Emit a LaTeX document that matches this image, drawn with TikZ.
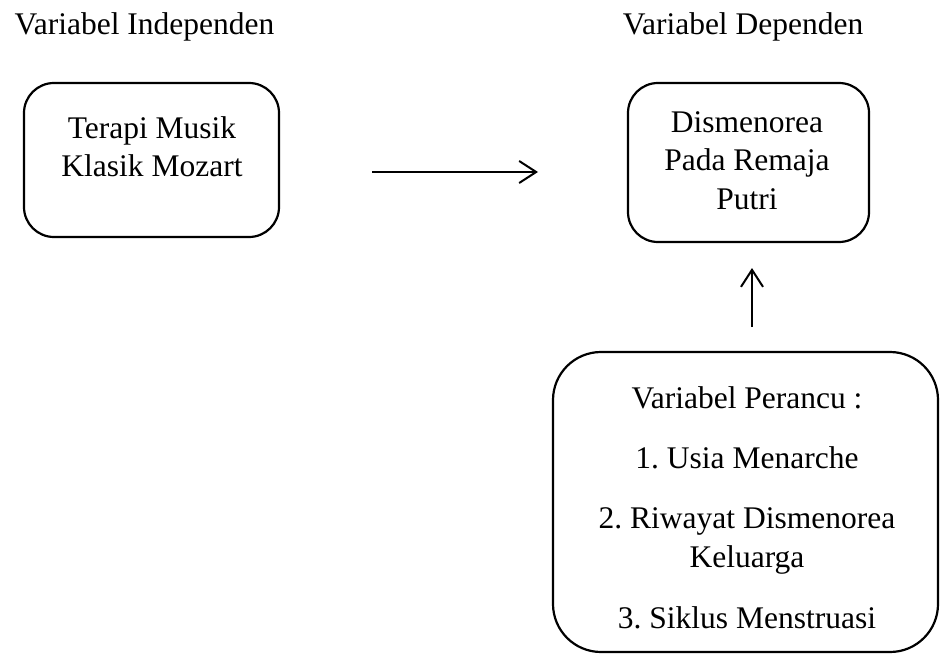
\documentclass[tikz,border=0pt]{standalone}
\usepackage{fontspec}
\setmainfont{Liberation Serif}
\usetikzlibrary{arrows.meta}
\frenchspacing
\begin{document}
\begin{tikzpicture}[x=1pt,y=-1pt,
  box/.style={draw,line width=2.2pt,rounded corners=#1,inner sep=0pt},
  txt/.style={font=\fontsize{31.5}{39}\selectfont,align=center,anchor=base,inner sep=0pt},
  arr/.style={line width=2pt,-{Straight Barb[length=17pt,width=22pt,line width=2pt]}}]
\useasboundingbox (0,0) rectangle (941,655);
% headings
\node[txt] (hind) at (144.5,35) {Variabel Independen};
\node[txt] (hdep) at (743,35) {Variabel Dependen};
% boxes
\node[box=30pt,minimum width=255pt,minimum height=154pt] (ind) at (151.5,160) {};
\node[box=30pt,minimum width=241pt,minimum height=159pt] (dep) at (748.5,162.5) {};
\node[box=48pt,minimum width=385pt,minimum height=300pt] (con) at (745.5,502) {};
% texts (anchor base = baseline of the last line)
\node[txt,font=\fontsize{31.5}{38}\selectfont] (tind) at (152,176) {Terapi Musik\\Klasik Mozart};
\node[txt,font=\fontsize{31.5}{38.5}\selectfont] (tdep) at (747,209) {Dismenorea\\Pada Remaja\\Putri};
\node[txt] (tcon) at (747,628) {Variabel Perancu :\\[21pt]1. Usia Menarche\\[21pt]2. Riwayat Dismenorea\\Keluarga\\[22pt]3. Siklus Menstruasi};
% arrows
\coordinate (h1) at (372,172);
\coordinate (h2) at (538,172);
\coordinate (v1) at (752,327);
\coordinate (v2) at (752,268);
\draw[arr] (h1) -- (h2);
\draw[arr] (v1) -- (v2);
\end{tikzpicture}
\end{document}
